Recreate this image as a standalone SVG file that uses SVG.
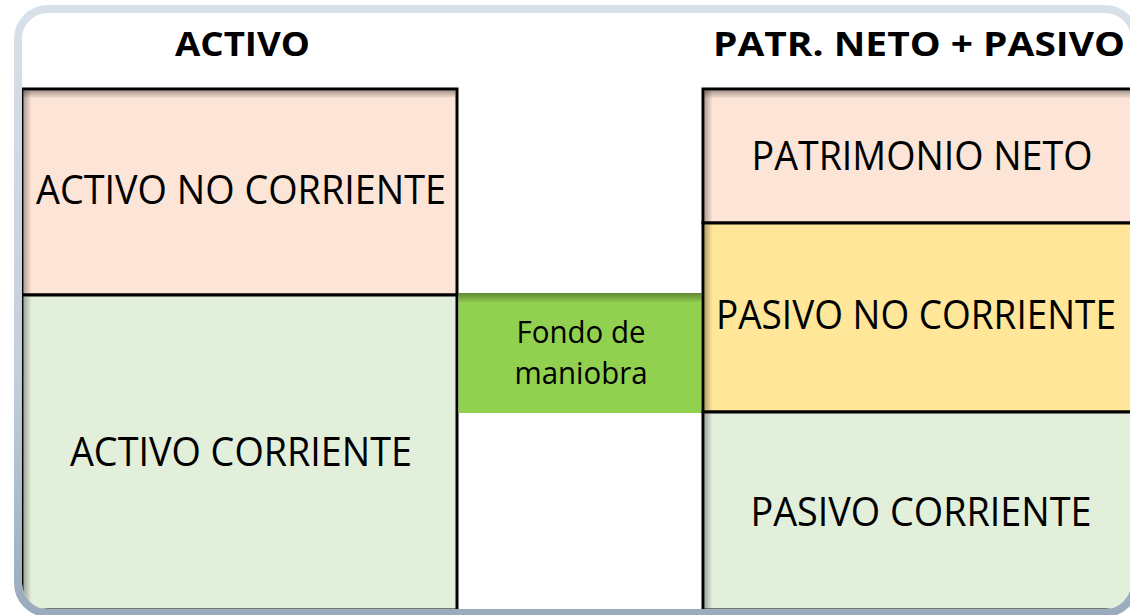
<svg xmlns="http://www.w3.org/2000/svg" width="1130" height="615" viewBox="0 0 1130 615">
<style>
.lbl{font-family:"Open Sans","Noto Sans","DejaVu Sans",sans-serif;font-size:40px;fill:#000;text-anchor:middle}
.hdr{font-family:"Open Sans","Noto Sans","DejaVu Sans",sans-serif;font-size:34px;font-weight:bold;fill:#000;text-anchor:middle}
.sm{font-size:31px}
.box{stroke:#000;stroke-width:3}
</style>
<defs>
<linearGradient id="frameG" x1="0" y1="0" x2="0" y2="1">
<stop offset="0" stop-color="#d8e0e9"/>
<stop offset="0.6" stop-color="#c3cfdb"/>
<stop offset="1" stop-color="#9aabbd"/>
</linearGradient>
<linearGradient id="shTop" x1="0" y1="0" x2="0" y2="1">
<stop offset="0" stop-color="#000" stop-opacity="0.35"/>
<stop offset="1" stop-color="#000" stop-opacity="0"/>
</linearGradient>
<linearGradient id="shLeft" x1="0" y1="0" x2="1" y2="0">
<stop offset="0" stop-color="#000" stop-opacity="0.3"/>
<stop offset="1" stop-color="#000" stop-opacity="0"/>
</linearGradient>
<clipPath id="inner"><rect x="22" y="13" width="1109" height="596" rx="26"/></clipPath>
</defs>
<rect x="0" y="0" width="1130" height="615" fill="#fff"/>
<g clip-path="url(#inner)">
<rect x="22" y="13" width="1109" height="596" fill="#fff"/>
<g id="activo-no-corriente">
<rect class="box" x="22" y="89" width="435" height="206" fill="#fce4d6"/>
<rect x="23.5" y="90.5" width="432" height="8" fill="url(#shTop)"/>
<rect x="23.5" y="90.5" width="8" height="203" fill="url(#shLeft)"/>
<text class="lbl" x="241" y="204" textLength="410" lengthAdjust="spacingAndGlyphs">ACTIVO NO CORRIENTE</text>
</g>
<g id="activo-corriente">
<rect class="box" x="22" y="295" width="435" height="315" fill="#e2efda"/>
<rect x="23.5" y="296.5" width="8" height="312" fill="url(#shLeft)"/>
<text class="lbl" x="241" y="466" textLength="342" lengthAdjust="spacingAndGlyphs">ACTIVO CORRIENTE</text>
</g>
<g id="fondo-maniobra">
<rect x="458.5" y="293" width="243" height="120" fill="#92d050"/>
<rect x="458.5" y="293" width="243" height="10" fill="url(#shTop)"/>
<text class="lbl sm" x="581" y="343" textLength="129" lengthAdjust="spacingAndGlyphs">Fondo de</text>
<text class="lbl sm" x="581" y="384" textLength="133" lengthAdjust="spacingAndGlyphs">maniobra</text>
</g>
<g id="patrimonio-neto">
<rect class="box" x="703" y="89" width="430" height="134" fill="#fce4d6"/>
<rect x="704.5" y="90.5" width="427" height="8" fill="url(#shTop)"/>
<rect x="704.5" y="90.5" width="8" height="131" fill="url(#shLeft)"/>
<text class="lbl" x="922" y="170" textLength="341" lengthAdjust="spacingAndGlyphs">PATRIMONIO NETO</text>
</g>
<g id="pasivo-no-corriente">
<rect class="box" x="703" y="223" width="430" height="189" fill="#ffe699"/>
<rect x="704.5" y="224.5" width="8" height="186" fill="url(#shLeft)"/>
<text class="lbl" x="916" y="329" font-size="36" textLength="400" lengthAdjust="spacingAndGlyphs">PASIVO NO CORRIENTE</text>
</g>
<g id="pasivo-corriente">
<rect class="box" x="703" y="412" width="430" height="198" fill="#e2efda"/>
<rect x="704.5" y="413.5" width="8" height="195" fill="url(#shLeft)"/>
<text class="lbl" x="921" y="526" textLength="341" lengthAdjust="spacingAndGlyphs">PASIVO CORRIENTE</text>
</g>
<g id="header-activo">
<text class="hdr" x="242.5" y="56" textLength="135" lengthAdjust="spacingAndGlyphs">ACTIVO</text>
</g>
<g id="header-pasivo">
<text class="hdr" x="919" y="56" textLength="412" lengthAdjust="spacingAndGlyphs">PATR. NETO + PASIVO</text>
</g>
</g>
<g id="connectors"/>
<g id="frame">
<rect x="18" y="9" width="1117" height="604" rx="30" fill="none" stroke="url(#frameG)" stroke-width="8"/>
</g>
</svg>
